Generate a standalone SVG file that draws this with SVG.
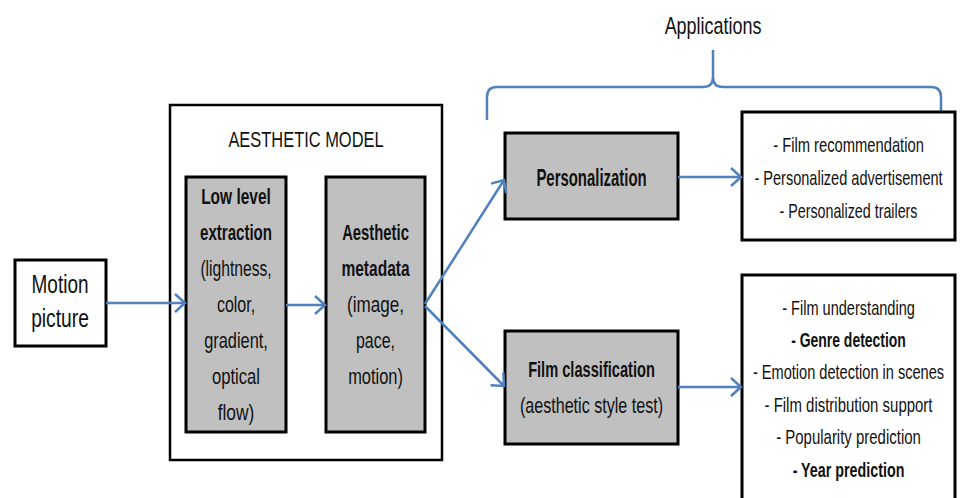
<svg xmlns="http://www.w3.org/2000/svg" width="966" height="498" viewBox="0 0 966 498">
<style>
text{font-family:"Liberation Sans",Arial,sans-serif;fill:#111;text-anchor:middle;font-size:22px;}
.b{font-weight:bold;}
.s{font-size:21px;}
.box{fill:#fff;stroke:#000;stroke-width:3;}
.gray{fill:#c0c0c0;stroke:#000;stroke-width:3;}
.conn{fill:none;stroke:#4f81bd;stroke-width:2.5;}
</style>
<defs>
<marker id="arr" markerUnits="userSpaceOnUse" viewBox="0 0 14 22" markerWidth="14" markerHeight="22" refX="12" refY="11" orient="auto">
<path d="M2,2 L12,11 L2,20" fill="none" stroke="#4f81bd" stroke-width="2.5"/>
</marker>
</defs>
<rect width="966" height="498" fill="#fff"/>

<g id="applications">
<text transform="translate(713,34) scale(0.75,1)" style="font-size:23px" textLength="129" lengthAdjust="spacingAndGlyphs">Applications</text>
<path class="conn" stroke-width="3" d="M487,120 L487,97 Q487,87 497,87 L703,87 Q713,87 713,77 L713,50 M713,77 Q713,87 723,87 L931,87 Q941,87 941,97 L941,120"/>
</g>

<g id="motion-picture">
<rect class="box" x="15" y="260" width="91" height="86"/>
<text transform="translate(60,293) scale(0.75,1)" style="font-size:26px" textLength="76" lengthAdjust="spacingAndGlyphs">Motion</text>
<text transform="translate(60,327) scale(0.75,1)" style="font-size:26px" textLength="77" lengthAdjust="spacingAndGlyphs">picture</text>
</g>

<g id="aesthetic-model">
<rect x="170" y="105" width="272" height="355" fill="#fff" stroke="#000" stroke-width="2.5"/>
<text transform="translate(306,147) scale(0.75,1)" textLength="207" lengthAdjust="spacingAndGlyphs">AESTHETIC MODEL</text>
</g>

<g id="low-level">
<rect class="gray" x="186" y="177" width="100" height="255"/>
<text class="b" transform="translate(236,204) scale(0.75,1)" textLength="93" lengthAdjust="spacingAndGlyphs">Low level</text>
<text class="b" transform="translate(236,240) scale(0.75,1)" textLength="96" lengthAdjust="spacingAndGlyphs">extraction</text>
<text transform="translate(236,276) scale(0.75,1)" textLength="95" lengthAdjust="spacingAndGlyphs">(lightness,</text>
<text transform="translate(236,312) scale(0.75,1)" textLength="51" lengthAdjust="spacingAndGlyphs">color,</text>
<text transform="translate(236,348) scale(0.75,1)" textLength="85" lengthAdjust="spacingAndGlyphs">gradient,</text>
<text transform="translate(236,384) scale(0.75,1)" textLength="64" lengthAdjust="spacingAndGlyphs">optical</text>
<text transform="translate(236,420) scale(0.75,1)" textLength="49" lengthAdjust="spacingAndGlyphs">flow)</text>
</g>

<g id="aesthetic-metadata">
<rect class="gray" x="326" y="177" width="99" height="255"/>
<text class="b" transform="translate(375.5,240) scale(0.75,1)" textLength="89" lengthAdjust="spacingAndGlyphs">Aesthetic</text>
<text class="b" transform="translate(375.5,276) scale(0.75,1)" textLength="91" lengthAdjust="spacingAndGlyphs">metadata</text>
<text transform="translate(375.5,312) scale(0.75,1)" textLength="76" lengthAdjust="spacingAndGlyphs">(image,</text>
<text transform="translate(375.5,348) scale(0.75,1)" textLength="52" lengthAdjust="spacingAndGlyphs">pace,</text>
<text transform="translate(375.5,384) scale(0.75,1)" textLength="73" lengthAdjust="spacingAndGlyphs">motion)</text>
</g>

<g id="personalization">
<rect class="gray" x="505" y="133" width="173" height="86"/>
<text class="b" transform="translate(591.5,186) scale(0.75,1)" style="font-size:23px" textLength="147" lengthAdjust="spacingAndGlyphs">Personalization</text>
</g>

<g id="film-classification">
<rect class="gray" x="505" y="331" width="173" height="113"/>
<text class="b" transform="translate(591.5,377) scale(0.75,1)" textLength="169" lengthAdjust="spacingAndGlyphs">Film classification</text>
<text transform="translate(591.5,413) scale(0.75,1)" textLength="191" lengthAdjust="spacingAndGlyphs">(aesthetic style test)</text>
</g>

<g id="personalization-apps">
<rect class="box" x="742" y="112" width="213" height="128"/>
<text class="s" transform="translate(848.5,152) scale(0.75,1)" textLength="201" lengthAdjust="spacingAndGlyphs">- Film recommendation</text>
<text class="s" transform="translate(848.5,185) scale(0.75,1)" textLength="251" lengthAdjust="spacingAndGlyphs">- Personalized advertisement</text>
<text class="s" transform="translate(848.5,218) scale(0.75,1)" textLength="184" lengthAdjust="spacingAndGlyphs">- Personalized trailers</text>
</g>

<g id="classification-apps">
<rect class="box" x="742" y="275" width="213" height="235"/>
<text class="s" transform="translate(848.5,315) scale(0.75,1)" textLength="177" lengthAdjust="spacingAndGlyphs">- Film understanding</text>
<text class="s b" transform="translate(848.5,347) scale(0.75,1)" textLength="153" lengthAdjust="spacingAndGlyphs">- Genre detection</text>
<text class="s" transform="translate(848.5,379) scale(0.75,1)" textLength="255" lengthAdjust="spacingAndGlyphs">- Emotion detection in scenes</text>
<text class="s" transform="translate(848.5,412) scale(0.75,1)" textLength="224" lengthAdjust="spacingAndGlyphs">- Film distribution support</text>
<text class="s" transform="translate(848.5,444) scale(0.75,1)" textLength="193" lengthAdjust="spacingAndGlyphs">- Popularity prediction</text>
<text class="s b" transform="translate(848.5,477) scale(0.75,1)" textLength="149" lengthAdjust="spacingAndGlyphs">- Year prediction</text>
</g>

<g id="connectors">
<line class="conn" x1="106" y1="303" x2="185" y2="303" marker-end="url(#arr)"/>
<line class="conn" x1="286" y1="305" x2="325" y2="305" marker-end="url(#arr)"/>
<line class="conn" x1="425" y1="304" x2="504" y2="180" marker-end="url(#arr)"/>
<line class="conn" x1="425" y1="306" x2="504" y2="386" marker-end="url(#arr)"/>
<line class="conn" x1="678" y1="177" x2="741" y2="177" marker-end="url(#arr)"/>
<line class="conn" x1="678" y1="387" x2="741" y2="387" marker-end="url(#arr)"/>
</g>
</svg>
